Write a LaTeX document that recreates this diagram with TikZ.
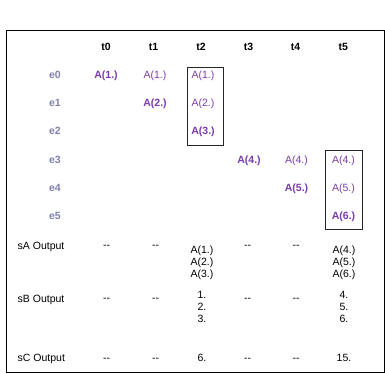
\documentclass[tikz,border=0pt]{standalone}
\usepackage{fontspec}
\setmainfont{Liberation Sans}
\definecolor{elab}{HTML}{8080AE}
\definecolor{apur}{HTML}{7A3CAA}
\begin{document}
\begin{tikzpicture}[x=1pt,y=-1pt,
  every node/.style={inner sep=0pt,font=\fontsize{10.5}{12}\selectfont},
  hdr/.style={anchor=base,font=\fontsize{10.5}{12}\selectfont\bfseries},
  elabel/.style={anchor=base,text=elab,font=\fontsize{10.5}{12}\selectfont\bfseries},
  anew/.style={anchor=base,text=apur,font=\fontsize{10.5}{12}\selectfont\bfseries},
  aold/.style={anchor=base,text=apur},
  rowlab/.style={anchor=base west},
  cell/.style={anchor=base},
  stack/.style={anchor=north,align=center},
  frame/.style={draw=black,line width=1.1pt},
  grp/.style={draw=black!85,line width=0.9pt}]
\useasboundingbox (0,0) rectangle (385,374);
\fill[white] (0,0) rectangle (385,374);
\draw[frame] (6.5,30.7) rectangle (384.3,372.5);
% headers
\node[hdr] (h0) at (106,50.5) {t0};
\node[hdr] (h1) at (153.5,50.5) {t1};
\node[hdr] (h2) at (201,50.5) {t2};
\node[hdr] (h3) at (248.5,50.5) {t3};
\node[hdr] (h4) at (295.5,50.5) {t4};
\node[hdr] (h5) at (343.3,50.5) {t5};
% event labels
\node[elabel] (e0) at (55,78.3) {e0};
\node[elabel] (e1) at (55,106.6) {e1};
\node[elabel] (e2) at (55,134.9) {e2};
\node[elabel] (e3) at (55,163.3) {e3};
\node[elabel] (e4) at (55,191.6) {e4};
\node[elabel] (e5) at (55,219.9) {e5};
% cells
\node[anew] (c00) at (106,78.3) {A(1.)};
\node[aold] (c01) at (155,78.3) {A(1.)};
\node[aold] (c02) at (203,78.3) {A(1.)};
\node[anew] (c11) at (155,106.6) {A(2.)};
\node[aold] (c12) at (203,106.6) {A(2.)};
\node[anew] (c22) at (203,134.9) {A(3.)};
\node[anew] (c33) at (249,163.3) {A(4.)};
\node[aold] (c34) at (296.5,163.3) {A(4.)};
\node[aold] (c35) at (343.5,163.3) {A(4.)};
\node[anew] (c44) at (296.5,191.6) {A(5.)};
\node[aold] (c45) at (343.5,191.6) {A(5.)};
\node[anew] (c55) at (343.5,219.9) {A(6.)};
% group boxes
\draw[grp] (187.3,67.3) rectangle (223.7,145.3);
\draw[grp] (325.7,150.7) rectangle (362.7,229);
% output rows
\node[rowlab] (sA) at (17.5,249) {sA Output};
\node[rowlab] (sB) at (17.5,302) {sB Output};
\node[rowlab] (sC) at (17.5,361.5) {sC Output};
\node[cell] (a0) at (106.5,248) {-{}-};
\node[cell] (a1) at (155.5,248) {-{}-};
\node[stack] (a2) at (202,245.5) {A(1.)\\A(2.)\\A(3.)};
\node[cell] (a3) at (247.5,248) {-{}-};
\node[cell] (a4) at (296,248) {-{}-};
\node[stack] (a5) at (344,245.5) {A(4.)\\A(5.)\\A(6.)};
\node[cell] (b0) at (106.5,301) {-{}-};
\node[cell] (b1) at (155.5,301) {-{}-};
\node[stack] (b2) at (202,291) {1.\\2.\\3.};
\node[cell] (b3) at (247.5,301) {-{}-};
\node[cell] (b4) at (296,301) {-{}-};
\node[stack] (b5) at (344,291) {4.\\5.\\6.};
\node[cell] (s0) at (106.5,361.5) {-{}-};
\node[cell] (s1) at (155.5,361.5) {-{}-};
\node[cell] (s2) at (202,361.5) {6.};
\node[cell] (s3) at (247.5,361.5) {-{}-};
\node[cell] (s4) at (296,361.5) {-{}-};
\node[cell] (s5) at (344,361.5) {15.};
\end{tikzpicture}
\end{document}
